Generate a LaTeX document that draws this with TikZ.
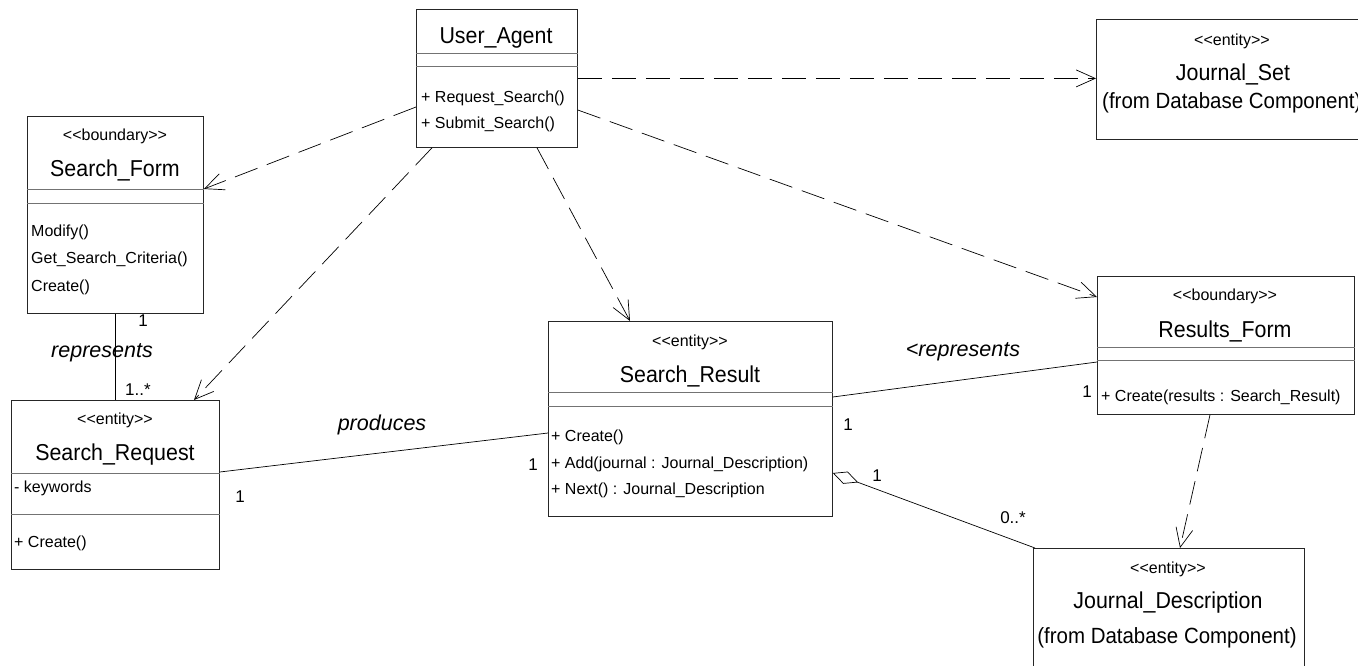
\documentclass[tikz,border=0pt]{standalone}
\usepackage{fontspec}
\setmainfont{Liberation Sans}
\newfontfamily\titlefont[FakeStretch=0.93]{Liberation Sans}
\usetikzlibrary{arrows.meta}
\newcommand{\stt}[1]{<\kern0pt<#1>\kern0pt>}
\tikzset{
  box/.style={draw=black!85, line width=0.8pt, fill=white, inner sep=0pt, anchor=north west},
  sep/.style={draw=black!55, line width=0.8pt},
  ttl/.style={font=\titlefont\fontsize{23}{23}\selectfont, inner sep=0pt, anchor=base},
  frm/.style={font=\titlefont\fontsize{22}{22}\selectfont, inner sep=0pt, anchor=base},
  stereo/.style={font=\fontsize{16}{16}\selectfont, inner sep=0pt, anchor=base},
  meth/.style={font=\fontsize{16}{16}\selectfont, inner sep=0pt, anchor=base west},
  lbl/.style={font=\fontsize{21.5}{21.5}\selectfont\itshape, inner sep=0pt, anchor=base},
  mult/.style={font=\fontsize{17}{17}\selectfont, inner sep=0pt, anchor=base},
  dep/.style={draw=black, line width=0.7pt, dash pattern=on 24pt off 10pt, -{Straight Barb[length=19pt,width=17pt]}},
  assoc/.style={draw=black, line width=0.7pt},
}
\begin{document}
\begin{tikzpicture}[x=1pt,y=-1pt]
\useasboundingbox[fill=white] (0,0) rectangle (1358,665);

% ---------- boxes ----------
\node[box, minimum width=161pt, minimum height=138pt] (ua) at (416,9) {};
\draw[sep] ([yshift=-44pt]ua.north west) -- ([yshift=-44pt]ua.north east);
\draw[sep] ([yshift=-57pt]ua.north west) -- ([yshift=-57pt]ua.north east);

\node[box, minimum width=176pt, minimum height=197pt] (sf) at (27,116) {};
\draw[sep] ([yshift=-73pt]sf.north west) -- ([yshift=-73pt]sf.north east);
\draw[sep] ([yshift=-87pt]sf.north west) -- ([yshift=-87pt]sf.north east);

\node[box, minimum width=208pt, minimum height=169pt] (sq) at (11,400) {};
\draw[sep] ([yshift=-73pt]sq.north west) -- ([yshift=-73pt]sq.north east);
\draw[sep] ([yshift=-114pt]sq.north west) -- ([yshift=-114pt]sq.north east);

\node[box, minimum width=284pt, minimum height=195pt] (sr) at (548,321) {};
\draw[sep] ([yshift=-71pt]sr.north west) -- ([yshift=-71pt]sr.north east);
\draw[sep] ([yshift=-85pt]sr.north west) -- ([yshift=-85pt]sr.north east);

\node[box, minimum width=257pt, minimum height=138pt] (rf) at (1097,276) {};
\draw[sep] ([yshift=-71pt]rf.north west) -- ([yshift=-71pt]rf.north east);
\draw[sep] ([yshift=-84pt]rf.north west) -- ([yshift=-84pt]rf.north east);

\node[box, minimum width=280pt, minimum height=120pt] (js) at (1096,19) {};
\node[box, minimum width=271pt, minimum height=142pt] (jd) at (1033,548) {};

% ---------- texts ----------
\node[ttl] (uat) at (496,43) {User\_Agent};
\node[meth] (uam1) at (421,102) {+ Request\_Search()};
\node[meth] (uam2) at (421,128) {+ Submit\_Search()};

\node[stereo] (sfs) at (115,140) {\stt{boundary}};
\node[ttl] (sft) at (115,176) {Search\_Form};
\node[meth] (sfm1) at (31,236) {Modify()};
\node[meth] (sfm2) at (31,263) {Get\_Search\_Criteria()};
\node[meth] (sfm3) at (31,291) {Create()};

\node[stereo] (sqs) at (115,424) {\stt{entity}};
\node[ttl] (sqt) at (115,460) {Search\_Request};
\node[meth] (sqa) at (14,492) {- keywords};
\node[meth] (sqm) at (14,547) {+ Create()};

\node[stereo] (srs) at (690,346) {\stt{entity}};
\node[ttl] (srt) at (690,382) {Search\_Result};
\node[meth] (srm1) at (551,441) {+ Create()};
\node[meth] (srm2) at (551,468) {+ Add(journal : Journal\_Description)};
\node[meth] (srm3) at (551,494) {+ Next() : Journal\_Description};

\node[stereo] (rfs) at (1225,300) {\stt{boundary}};
\node[ttl] (rft) at (1225,337) {Results\_Form};
\node[meth] (rfm) at (1101,401) {+ Create(results : Search\_Result)};

\node[stereo] (jss) at (1232,45) {\stt{entity}};
\node[ttl] (jst) at (1233,80) {Journal\_Set};
\node[frm, anchor=base west] (jsf) at (1102,108) {(from Database Component)};

\node[stereo] (jds) at (1168,573) {\stt{entity}};
\node[ttl] (jdt) at (1168,608) {Journal\_Description};
\node[frm] (jdf) at (1167,643) {(from Database Component)};

% ---------- dependencies ----------
\draw[dep] (ua.east) -- (ua.east -| js.west);
\draw[dep] ([yshift=-98pt]ua.north west) -- ([yshift=-73pt]sf.north east);
\draw[dep] ([xshift=16pt]ua.south west) -- ([xshift=183pt]sq.north west);
\draw[dep] ([xshift=121pt]ua.south west) -- ([xshift=82pt]sr.north west);
\draw[dep] ([yshift=-101pt]ua.north east) -- ([yshift=-21pt]rf.north west);
\draw[dep] ([xshift=113pt]rf.south west) -- ([xshift=147pt]jd.north west);

% ---------- associations ----------
\draw[assoc] (sf.south) -- (sf.south |- sq.north);
\draw[assoc] ([yshift=-72pt]sq.north east) -- ([yshift=-112pt]sr.north west);
\draw[assoc] ([yshift=-76pt]sr.north east) -- ([yshift=-86pt]rf.north west);
\draw[assoc, {Diamond[open,length=27pt,width=13pt]}-] ([yshift=-152pt]sr.north east) -- ([xshift=2pt]jd.north west);

% ---------- labels ----------
\node[mult] (m1) at (143,326) {1};
\node[lbl] (l1) at (102,357) {represents};
\node[mult] (m2) at (138,395) {1..*};
\node[lbl] (l2) at (382,430) {produces};
\node[mult] (m3) at (240,502) {1};
\node[mult] (m4) at (533,470) {1};
\node[lbl] (l3) at (963,356) {<represents};
\node[mult] (m5) at (848,430) {1};
\node[mult] (m6) at (1087,397) {1};
\node[mult] (m7) at (877,481) {1};
\node[mult] (m8) at (1013,523) {0..*};
\end{tikzpicture}
\end{document}
